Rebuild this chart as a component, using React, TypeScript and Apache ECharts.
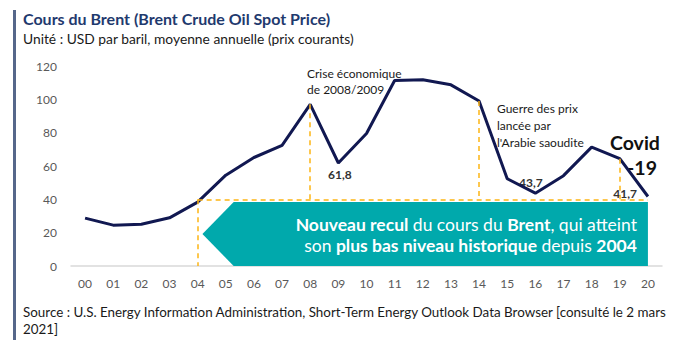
import React, { useEffect, useRef } from "react";
import * as echarts from "echarts";

const years = ["00","01","02","03","04","05","06","07","08","09","10","11","12","13","14","15","16","17","18","19","20"];
const brent = [28.7, 24.5, 25.0, 28.9, 38.3, 54.5, 65.1, 72.4, 97.0, 61.8, 79.5, 111.3, 111.7, 108.7, 99.0, 52.4, 43.7, 54.2, 71.3, 64.4, 41.7];
const yMin = 0;
const yMax = 120;
const yStep = 20;
const refLevel = 40;
const boxTop = 38.4;
const eventYears = ["08", "14", "19"];

const FONT = "Lato, 'Open Sans', sans-serif";
const ORANGE = "#FDB515";

export default function App() {
  const ref = useRef<HTMLDivElement>(null);
  useEffect(() => {
    if (!ref.current) return;
    const chart = echarts.init(ref.current, null, { renderer: "svg" });
    const idx = (y: string) => years.indexOf(y);
    const markData: any[] = [];
    eventYears.forEach((y) => {
      markData.push([{ coord: [y, brent[idx(y)]] }, { coord: [y, refLevel] }]);
    });
    markData.push([{ coord: ["04", refLevel] }, { coord: ["20", refLevel] }]);
    markData.push([{ coord: ["04", refLevel] }, { coord: ["04", 0] }]);

    const option: any = {
      animation: false,
      textStyle: { fontFamily: FONT },
      grid: { left: 71, right: 38, top: 66, bottom: 86 },
      xAxis: {
        type: "category",
        data: years,
        boundaryGap: true,
        axisLine: { lineStyle: { color: "#d9d9d9", width: 1.5 } },
        axisTick: { show: false },
        axisLabel: { color: "#595959", fontSize: 12, margin: 11, fontFamily: FONT },
      },
      yAxis: {
        type: "value",
        min: yMin,
        max: yMax,
        interval: yStep,
        axisLine: { show: false },
        axisTick: { show: false },
        splitLine: { show: false },
        axisLabel: { color: "#595959", fontSize: 12, margin: 14, fontFamily: FONT },
      },
      series: [
        {
          type: "custom",
          silent: true,
          z: 1,
          data: [[4, boxTop]],
          renderItem: (params: any, api: any) => {
            const p4 = api.coord([4, boxTop]);
            const p5 = api.coord([5, 0]);
            const p20 = api.coord([20, 0]);
            const step = p5[0] - p4[0];
            const top = p4[1];
            const bottom = p5[1];
            const tipX = p4[0] + 0.17 * step;
            const bodyX = p4[0] + 1.28 * step;
            const right = p20[0];
            const mid = (top + bottom) / 2;
            const rich = {
              b: { fontWeight: "bold", fontSize: 17.5, fill: "#fff", fontFamily: FONT },
              n: { fontWeight: "normal", fontSize: 17.5, fill: "#fff", fontFamily: FONT },
            };
            return {
              type: "group",
              children: [
                {
                  type: "polygon",
                  shape: { points: [[tipX, mid], [bodyX, top], [right, top], [right, bottom], [bodyX, bottom]] },
                  style: { fill: "#00A9AC" },
                },
                {
                  type: "text",
                  x: right - 11,
                  y: top + 22,
                  style: {
                    text: "{b|Nouveau recul}{n| du cours du }{b|Brent}{n|, qui atteint}",
                    rich,
                    align: "right",
                    verticalAlign: "middle",
                    fill: "#fff",
                    fontSize: 17.5,
                    fontFamily: FONT,
                  },
                },
                {
                  type: "text",
                  x: right - 11,
                  y: top + 43,
                  style: {
                    text: "{n|son }{b|plus bas niveau historique}{n| depuis }{b|2004}",
                    rich,
                    align: "right",
                    verticalAlign: "middle",
                    fill: "#fff",
                    fontSize: 17.5,
                    fontFamily: FONT,
                  },
                },
              ],
            };
          },
        },
        {
          type: "line",
          data: brent,
          z: 3,
          symbol: "none",
          lineStyle: { color: "#111851", width: 3 },
          markLine: {
            silent: true,
            symbol: "none",
            label: { show: false },
            lineStyle: { color: ORANGE, type: [5, 4], width: 1.5 },
            data: markData,
          },
        },
      ],
      graphic: [
        { type: "rect", shape: { x: 13, y: 10, width: 3, height: 330 }, style: { fill: "#56678a" } },
        {
          type: "text", x: 23, y: 18,
          style: { text: "Cours du Brent (Brent Crude Oil Spot Price)", fill: "#1F3A6E", fontSize: 16, fontWeight: "bold", fontFamily: FONT, verticalAlign: "middle" },
        },
        {
          type: "text", x: 23, y: 38,
          style: { text: "Unité : USD par baril, moyenne annuelle (prix courants)", fill: "#1a1a1a", fontSize: 13.8, fontFamily: FONT, verticalAlign: "middle" },
        },
        {
          type: "text", x: 307, y: 81,
          style: { text: "Crise économique\nde 2008/2009", fill: "#1a1a1a", fontSize: 12, lineHeight: 16, fontFamily: FONT, verticalAlign: "middle" },
        },
        {
          type: "text", x: 328, y: 174,
          style: { text: "61,8", fill: "#333", fontSize: 12, fontWeight: "bold", fontFamily: FONT, verticalAlign: "middle" },
        },
        {
          type: "text", x: 497, y: 125,
          style: { text: "Guerre des prix\nlancée par\nl'Arabie saoudite", fill: "#1a1a1a", fontSize: 12, lineHeight: 17, fontFamily: FONT, verticalAlign: "middle" },
        },
        {
          type: "text", x: 519, y: 182,
          style: { text: "43,7", fill: "#333", fontSize: 12, fontWeight: "bold", fontFamily: FONT, verticalAlign: "middle" },
        },
        {
          type: "text", x: 637, y: 193,
          style: { text: "41,7", fill: "#333", fontSize: 12, fontWeight: "bold", fontFamily: FONT, align: "right", verticalAlign: "middle" },
        },
        {
          type: "text", x: 610, y: 142,
          style: { text: "Covid", fill: "#111", fontSize: 19.5, fontWeight: "bold", fontFamily: FONT, verticalAlign: "middle" },
        },
        {
          type: "text", x: 657, y: 167,
          style: { text: "-19", fill: "#111", fontSize: 19.5, fontWeight: "bold", fontFamily: FONT, align: "right", verticalAlign: "middle" },
        },
        {
          type: "text", x: 23, y: 303,
          style: { text: "Source : U.S. Energy Information Administration, Short-Term Energy Outlook Data Browser [consulté le 2 mars\n2021]", fill: "#1a1a1a", fontSize: 13.4, lineHeight: 17, fontFamily: FONT, verticalAlign: "top" },
        },
      ],
    };
    chart.setOption(option);
    return () => chart.dispose();
  }, []);
  return <div ref={ref} style={{ width: 700, height: 352, position: "absolute", left: 0, top: 0 }} />;
}
